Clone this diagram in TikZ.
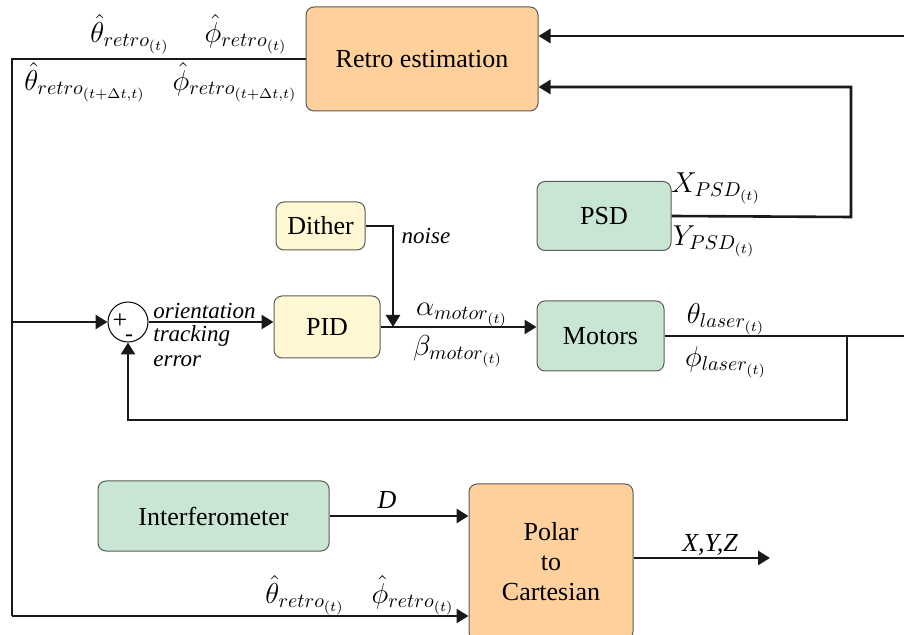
\documentclass[tikz,border=0pt]{standalone}
\usepackage{fontspec}
\newfontfamily\tms{Liberation Serif}
\usetikzlibrary{arrows.meta}
\definecolor{orangebox}{HTML}{FDD09C}
\definecolor{greenbox}{HTML}{C9E5D4}
\definecolor{yellowbox}{HTML}{FFF8D2}
\definecolor{boxline}{HTML}{5A5A5A}
\begin{document}
\begin{tikzpicture}[x=0.5pt,y=-0.5pt,
  font=\tms\fontsize{13}{15}\selectfont,
  blk/.style={draw=boxline,line width=0.5pt,rounded corners=4pt,inner sep=0pt,align=center},
  ob/.style={blk,fill=orangebox},
  gb/.style={blk,fill=greenbox},
  yb/.style={blk,fill=yellowbox},
  wire/.style={line width=1.3pt,draw=black!90},
  arr/.style={wire,-{Triangle[length=6pt,width=7pt]}},
  lbl/.style={inner sep=0pt,font=\fontsize{14.4}{17}\selectfont},
  ilbl/.style={inner sep=0pt,font=\tms\fontsize{13}{15}\selectfont\itshape},
  slbl/.style={inner sep=0pt,font=\tms\fontsize{11.5}{13}\selectfont\itshape}]
\useasboundingbox (0,0) rectangle (904,635);

% blocks
\node[ob,minimum width=116pt,minimum height=52pt] (retro) at (422,59) {Retro estimation};
\node[gb,minimum width=67pt,minimum height=34.5pt] (psd) at (604,216) {PSD};
\node[yb,minimum width=44.5pt,minimum height=24pt] (dither) at (320.5,226) {Dither};
\node[yb,minimum width=53pt,minimum height=31pt] (pid) at (327,327) {PID};
\node[gb,minimum width=63.5pt,minimum height=35pt] (motors) at (600.5,336) {Motors};
\node[gb,minimum width=115.5pt,minimum height=35pt] (interf) at (213.5,516) {Interferometer};
\node[ob,minimum width=82pt,minimum height=78pt] (polar) at (551,562) {Polar\\to\\Cartesian};
\node[draw,circle,line width=0.5pt,minimum size=20pt,inner sep=0pt] (sum) at (128,322) {};
\node[inner sep=0pt] (plus) at (120,321) {+};
\node[inner sep=0pt,font=\tms\fontsize{12}{14}\selectfont] (minus) at (129,338) {-};

% coordinates
\coordinate (lt) at (12,59);
\coordinate (lsum) at (12,322);
\coordinate (lbot) at (12,616);
\coordinate (tr) at (904,36);
\coordinate (psdc) at (851,217);
\coordinate (ditc) at (393,226);
\coordinate (motr) at (904,336);
\coordinate (fbk) at (847,336);
\coordinate (fbb) at (847,420);
\coordinate (xyz) at (770,558);

% connectors
\draw[wire] (retro.west) -- (lt) -- (lbot);
\draw[arr] (lbot) -- (polar.west |- lbot);
\draw[arr] (lsum) -- (sum.west);
\draw[arr] (tr) -- (retro.east |- tr);
\draw[arr] (psd.east) -- (psdc) |- (retro.east |- 0,87);
\draw[arr] (dither.east) -- (ditc) -- (ditc |- pid.east);
\draw[arr] (sum.east) -- (pid.west |- sum.east);
\draw[arr] (pid.east) -- (motors.west |- pid.east);
\draw[wire] (motors.east) -- (motr);
\draw[arr] (fbk) -- (fbb) -| (sum.south);
\draw[arr] (interf.east) -- (polar.west |- interf.east);
\draw[arr] (polar.east |- xyz) -- (xyz);

% labels
\node[lbl] (l1) at (130,34) {$\hat{\theta}_{retro_{(t)}}$};
\node[lbl] (l2) at (246,34) {$\hat{\phi}_{retro_{(t)}}$};
\node[lbl] (l3) at (85,82) {$\hat{\theta}_{retro_{(t+\Delta t,t)}}$};
\node[lbl] (l4) at (235,82) {$\hat{\phi}_{retro_{(t+\Delta t,t)}}$};
\node[lbl] (l5) at (716,188) {$X_{PSD_{(t)}}$};
\node[lbl] (l6) at (714,241) {$Y_{PSD_{(t)}}$};
\node[slbl] (l7) at (426,236) {noise};
\node[slbl,anchor=west] (l8) at (153,311) {orientation};
\node[slbl,anchor=west] (l9) at (153,336) {tracking};
\node[slbl,anchor=west] (l10) at (153,361) {error};
\node[lbl] (l11) at (462,315) {$\alpha_{motor_{(t)}}$};
\node[lbl] (l12) at (458,351) {$\beta_{motor_{(t)}}$};
\node[lbl] (l13) at (726,319) {$\theta_{laser_{(t)}}$};
\node[lbl] (l14) at (726,362) {$\phi_{laser_{(t)}}$};
\node[ilbl] (l15) at (387,500) {D};
\node[ilbl] (l16) at (710,545) {X,Y,Z};
\node[lbl] (l17) at (305,595) {$\hat{\theta}_{retro_{(t)}}$};
\node[lbl] (l18) at (413,595) {$\hat{\phi}_{retro_{(t)}}$};
\end{tikzpicture}
\end{document}
